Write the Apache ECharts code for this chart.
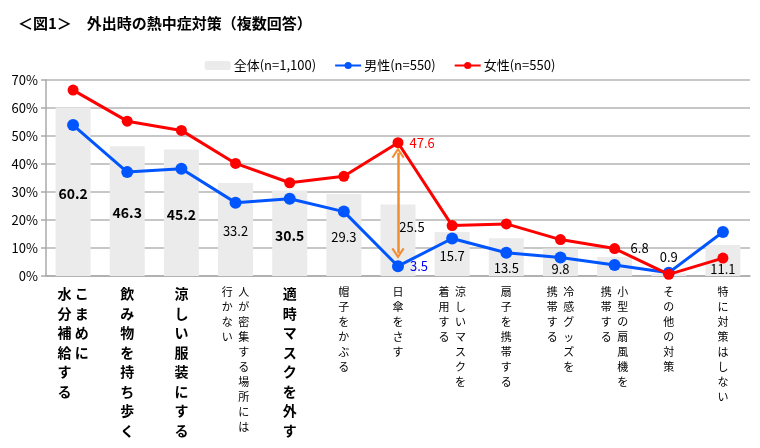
<!DOCTYPE html>
<html><head><meta charset="utf-8">
<script src="https://cdn.jsdelivr.net/npm/echarts@6/dist/echarts.min.js"></script>
<style>html,body{margin:0;padding:0;background:#fff}#c{width:760px;height:448px}</style>
</head><body><div id="c"></div>
<script>
// Category labels: each category as its vertical columns (first column = rightmost)
const categoryColumns = [
  ["こまめに", "水分補給する"],
  ["飲み物を持ち歩く"],
  ["涼しい服装にする"],
  ["人が密集する場所には", "行かない"],
  ["適時マスクを外す"],
  ["帽子をかぶる"],
  ["日傘をさす"],
  ["涼しいマスクを", "着用する"],
  ["扇子を携帯する"],
  ["冷感グッズを", "携帯する"],
  ["小型の扇風機を", "携帯する"],
  ["その他の対策"],
  ["特に対策はしない"]
];
const categories = categoryColumns.map(c => c.join(""));
const overall = [60.2, 46.3, 45.2, 33.2, 30.5, 29.3, 25.5, 15.7, 13.5, 9.8, 6.8, 0.9, 11.1];
const male    = [53.9, 37.1, 38.3, 26.2, 27.6, 23.0, 3.5, 13.4, 8.3, 6.6, 3.9, 1.2, 15.7];
const female  = [66.4, 55.3, 52.0, 40.2, 33.3, 35.6, 47.6, 18.0, 18.6, 13.0, 9.8, 0.6, 6.4];
const yTicks = [0, 10, 20, 30, 40, 50, 60, 70];
const seriesNames = ["全体(n=1,100)", "男性(n=550)", "女性(n=550)"];
const titleText = "＜図1＞　外出時の熱中症対策（複数回答）";

const boldIdx = [0, 1, 2, 4];
const highlightIdx = 6;
const FONT = '"Noto Sans CJK JP", "Noto Sans", sans-serif';
const BLUE = '#0055ff', RED = '#ff0000', ORANGE = '#f28c30';

function vertLabel(value, index) {
  const cols = categoryColumns[index].slice().reverse(); // left to right
  const bold = boldIdx.includes(index);
  const n = Math.max(...cols.map(c => c.length));
  const sep = bold ? ' ' : '\u2002';
  const lines = [];
  for (let i = 0; i < n; i++) {
    lines.push(cols.map(c => c[i] || '\u3000').join(sep));
  }
  return '{' + (bold ? 'b' : 'n') + '|' + lines.join('\n') + '}';
}

const barLabelCfg = {
  6: {position: 'inside', offset: [14, -13]},
  8: {position: 'insideBottom', distance: 1},
  9: {position: 'insideBottom', distance: 0},
  10: {position: 'top', offset: [25, 3]},
  11: {position: 'top', offset: [0, -5]},
  12: {position: 'insideBottom', distance: 0}
};

const barData = overall.map((v, i) => {
  const bold = boldIdx.includes(i);
  const cfg = barLabelCfg[i] || {position: 'inside', offset: [0, 2]};
  return {value: v, label: Object.assign({
    fontWeight: bold ? 'bold' : 'normal',
    fontSize: bold ? 14 : 13
  }, cfg)};
});

function lineData(arr, color) {
  return arr.map((v, i) => i === highlightIdx ? {
    value: v,
    label: {show: true, position: 'right', distance: 6, color: color, fontSize: 13, fontFamily: FONT, formatter: p => p.value.toFixed(1)}
  } : v);
}

const chevron = 'path://M0,9 L6,0 L12,9 L10.4,10 L6,3.4 L1.6,10 Z';

const chart = echarts.init(document.getElementById('c'), null, {renderer: 'canvas'});
chart.setOption({
  animation: false,
  textStyle: {fontFamily: FONT},
  title: {
    text: titleText, left: 13, top: 11,
    textStyle: {fontSize: 15, fontWeight: 'bold', color: '#000', fontFamily: FONT}
  },
  legend: {
    top: 54, left: 'center',
    itemWidth: 26, itemHeight: 9, itemGap: 18,
    textStyle: {fontSize: 13, color: '#000', fontFamily: FONT, padding: [0, 0, 0, -2]},
    data: seriesNames
  },
  grid: {left: 46, right: 10, top: 80, bottom: 172, containLabel: false},
  xAxis: {
    type: 'category', data: categories,
    axisLine: {lineStyle: {color: '#aaaaaa', width: 1.5}},
    axisTick: {show: false},
    axisLabel: {
      interval: 0, margin: 8, formatter: vertLabel, verticalAlign: 'top',
      rich: {
        b: {fontSize: 14, fontWeight: 'bold', lineHeight: 19.5, color: '#000', fontFamily: FONT},
        n: {fontSize: 11, lineHeight: 15, color: '#000', fontFamily: FONT}
      }
    }
  },
  yAxis: {
    type: 'value', min: yTicks[0], max: yTicks[yTicks.length - 1], interval: yTicks[1] - yTicks[0],
    axisLine: {show: true, lineStyle: {color: '#aaaaaa', width: 1.5}},
    axisTick: {show: true, length: 5, lineStyle: {color: '#aaaaaa', width: 1.5}},
    splitLine: {lineStyle: {color: '#b4b4b4', width: 1.5}},
    axisLabel: {formatter: '{value}%', fontSize: 13, color: '#000', margin: 8, fontFamily: FONT}
  },
  series: [
    {
      name: seriesNames[0], type: 'bar', data: barData, barWidth: 35,
      itemStyle: {color: '#ebebeb'},
      label: {show: true, color: '#000', fontFamily: FONT, formatter: p => p.value.toFixed(1)},
      z: 1
    },
    {
      name: seriesNames[1], type: 'line', data: lineData(male, '#0000ff'),
      color: BLUE, symbol: 'circle', symbolSize: 12,
      lineStyle: {width: 3, color: BLUE}, itemStyle: {color: BLUE},
      z: 3
    },
    {
      name: seriesNames[2], type: 'line', data: lineData(female, RED),
      color: RED, symbol: 'circle', symbolSize: 11,
      lineStyle: {width: 3, color: RED}, itemStyle: {color: RED},
      z: 4,
      markLine: {
        silent: true, symbol: [chevron, chevron], symbolSize: [13, 11],
        lineStyle: {color: ORANGE, width: 2.5, type: 'solid'},
        itemStyle: {color: ORANGE},
        label: {show: false},
        data: [[
          {coord: [highlightIdx, female[highlightIdx] - 3.6]},
          {coord: [highlightIdx, male[highlightIdx] + 4.6]}
        ]]
      }
    }
  ]
});
</script>
</body></html>
